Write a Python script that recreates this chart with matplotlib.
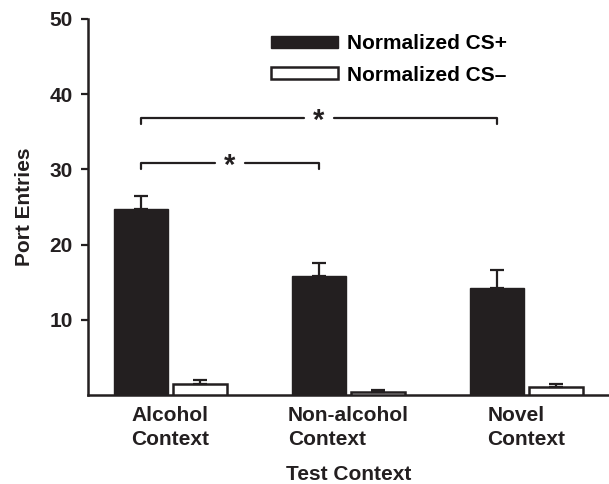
import matplotlib

matplotlib.use("Agg")
import matplotlib.pyplot as plt
import numpy as np
from matplotlib.patches import Patch

contexts = ["Alcohol\nContext", "Non-alcohol\nContext", "Novel\nContext"]
cs_plus = [24.8, 15.8, 14.2]
cs_plus_sem = [1.7, 1.8, 2.4]
cs_minus = [1.5, 0.35, 1.0]
cs_minus_sem = [0.5, 0.3, 0.5]
series_labels = ["Normalized CS+", "Normalized CS\u2013"]
y_ticks = [10, 20, 30, 40, 50]

# significance brackets: (group a, group b, height)
brackets = [(0, 1, 30.9), (0, 2, 36.9)]

INK = "#231f20"
plt.rcParams["font.family"] = ["Liberation Sans", "DejaVu Sans"]
plt.rcParams["font.weight"] = "bold"
plt.rcParams["axes.labelweight"] = "bold"
plt.rcParams["font.size"] = 15

fig = plt.figure(figsize=(6.09, 4.84), dpi=100)
ax = fig.add_axes([88 / 609, 89 / 484, 521 / 609, 376 / 484])

x = np.arange(len(contexts))
width = 0.303
offset = 0.166
err_kw = dict(ecolor=INK, elinewidth=1.6, capsize=4.7, capthick=1.6)

ax.bar(x - offset, cs_plus, width, color=INK, edgecolor=INK, linewidth=1.0,
       yerr=[np.zeros(3), cs_plus_sem], error_kw=err_kw, zorder=3)
ax.bar(x + offset, cs_minus, width, color="white", edgecolor=INK, linewidth=1.8,
       yerr=[np.zeros(3), cs_minus_sem], error_kw=err_kw, zorder=3)

for a, b, h in brackets:
    xa, xb = a - offset, b - offset
    mid = (xa + xb) / 2
    gap = 0.085
    ax.plot([xa, xa, mid - gap], [h - 0.8, h, h], color=INK, lw=1.6,
            solid_capstyle="round", solid_joinstyle="round")
    ax.plot([mid + gap, xb, xb], [h, h, h - 0.8], color=INK, lw=1.6,
            solid_capstyle="round", solid_joinstyle="round")
    ax.text(mid, h - 0.4, "*", ha="center", va="center", fontsize=21, fontweight="bold", color=INK)

ax.set_xlim(-0.463, 2.463)
ax.set_ylim(0, 50)
ax.set_yticks(y_ticks)
ax.set_xticks(x)
ax.set_xticklabels(contexts, linespacing=1.35)
for lab in ax.get_xticklabels():
    lab.set_multialignment("left")
ax.tick_params(axis="x", length=0, pad=8, colors=INK)
ax.tick_params(axis="y", length=5, width=1.6, pad=6, colors=INK, direction="out")
ax.set_xlabel("Test Context", labelpad=11, color=INK)
ax.set_ylabel("Port Entries", labelpad=11, color=INK)

for side in ["top", "right"]:
    ax.spines[side].set_visible(False)
for side in ["left", "bottom"]:
    ax.spines[side].set_linewidth(1.8)
    ax.spines[side].set_color(INK)

handles = [Patch(facecolor=INK, edgecolor=INK, linewidth=1.0),
           Patch(facecolor="white", edgecolor=INK, linewidth=1.8)]
ax.legend(handles, series_labels, loc="upper left", bbox_to_anchor=(0.335, 0.982),
          frameon=False, handlelength=3.2, handleheight=0.5, handletextpad=0.45,
          labelspacing=0.6, borderaxespad=0)

fig.savefig("out.png", dpi=100)
